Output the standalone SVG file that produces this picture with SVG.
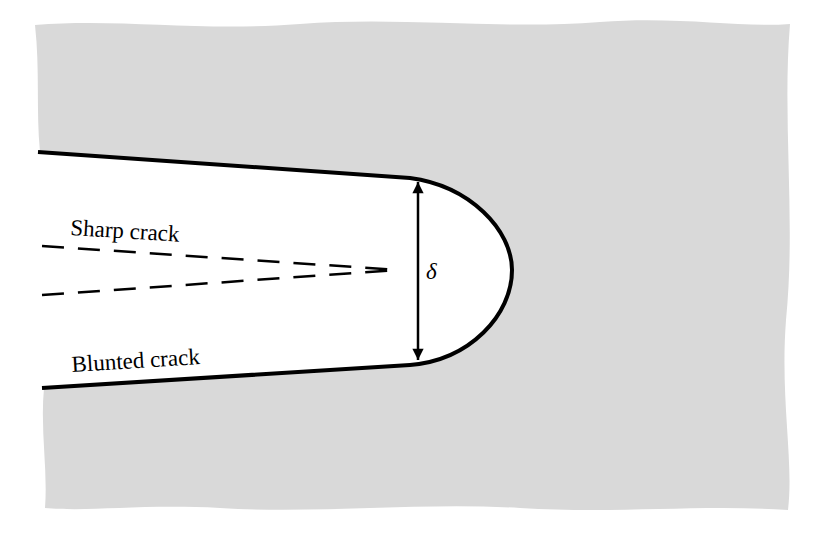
<svg xmlns="http://www.w3.org/2000/svg" width="818" height="539" viewBox="0 0 818 539">
<style>
.lbl{font-family:"Liberation Serif",serif;font-size:23px;fill:#000}
.crack{fill:#fff;stroke:#000;stroke-width:4;stroke-linejoin:round}
.dash{stroke:#000;stroke-width:2.5;stroke-dasharray:22,14;fill:none}
</style>
<defs>
<marker id="ah" viewBox="0 0 10 10" refX="10" refY="5" markerWidth="6" markerHeight="4.5" orient="auto-start-reverse">
<path d="M0,0 L10,5 L0,10 z" fill="#000"/>
</marker>
</defs>
<rect width="818" height="539" fill="#fff"/>
<path id="material" d="M35,25 C120,18 200,32 300,24 C400,16 500,30 600,22 C680,16 740,28 790,24 C782,120 796,220 786,320 C780,400 794,460 788,510 C700,504 620,514 520,508 C420,502 320,514 220,508 C140,504 90,512 45,508 C48,470 40,430 44,388 L40,152 C36,110 40,70 35,25 Z" fill="#d9d9d9"/>
<g id="crack">
<path class="crack" d="M38,152 L410,178 C470,186 512,230 512,270 C512,315 470,360 410,365 L42,388"/>
</g>
<g id="sharp">
<path class="dash" d="M42,246 L398,270 M42,295 L398,270"/>
</g>
<g id="connectors">
<line x1="418" y1="182" x2="418" y2="360" stroke="#000" stroke-width="2.5" marker-start="url(#ah)" marker-end="url(#ah)"/>
</g>
<text class="lbl" x="426" y="279" font-style="italic" font-size="26">δ</text>
<text class="lbl" x="70" y="235" transform="rotate(3.5 70 235)">Sharp crack</text>
<text class="lbl" x="72" y="372" transform="rotate(-3.5 72 372)">Blunted crack</text>
</svg>
